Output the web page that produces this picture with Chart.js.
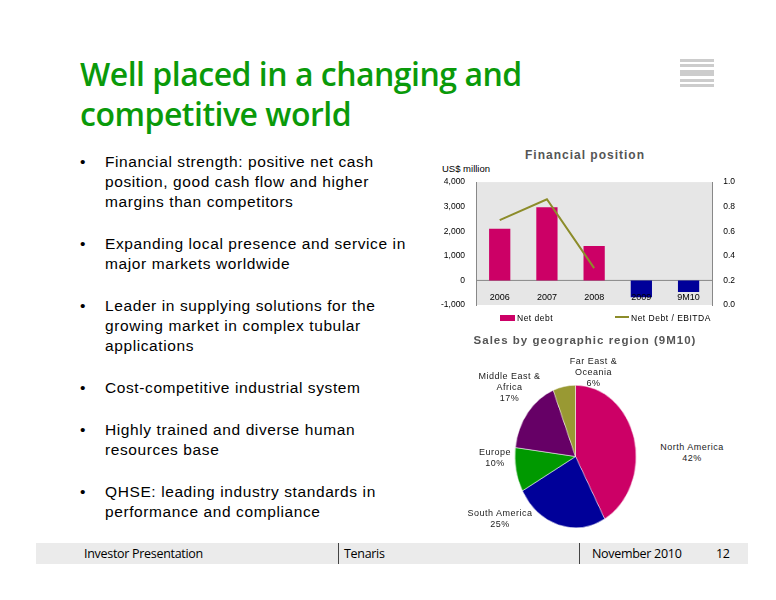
<!DOCTYPE html><html><head><meta charset="utf-8">
<script src="https://cdn.jsdelivr.net/npm/chart.js@4/dist/chart.umd.min.js"></script>
<style>
body{margin:0;width:776px;height:600px;background:#fff;font-family:"Liberation Sans",Arial,sans-serif;position:relative;overflow:hidden}
#title{position:absolute;left:80px;top:54px;font-family:"Open Sans",sans-serif;font-weight:600;font-size:32px;line-height:40px;color:#0a9a0a;letter-spacing:-0.5px}
ul{position:absolute;left:80px;top:152px;margin:0;padding:0;list-style:none;width:330px}
li{position:relative;padding-left:25px;font-size:15.5px;line-height:20px;letter-spacing:0.6px;color:#000}
li:before{content:"•";position:absolute;left:0}
.abs{position:absolute}
#foot{position:absolute;left:36px;top:543px;width:712px;height:21px;background:#ebebeb;font-family:"Open Sans",sans-serif;font-size:12.5px;line-height:21px;letter-spacing:-0.3px}
.lbl{position:absolute;font-size:9px;text-align:center;color:#222;letter-spacing:0.5px;line-height:11px}
.leg{position:absolute;font-size:8.5px;letter-spacing:0.5px}
</style></head><body>
<div id="title">Well placed in a changing and<br>competitive world</div>
<div class="abs" style="left:680px;top:59px;width:34px">
<div style="height:3px;background:#ccc;margin-bottom:2px"></div><div style="height:3px;background:#ccc;margin-bottom:3px"></div><div style="height:6px;background:#ccc;margin-bottom:3px"></div><div style="height:3px;background:#ccc;margin-bottom:2px"></div><div style="height:3px;background:#ccc"></div></div>
<ul>
<li style="margin-bottom:22px">Financial strength: positive net cash position, good cash flow and higher margins than competitors</li>
<li style="margin-bottom:22px">Expanding local presence and service in major markets worldwide</li>
<li style="margin-bottom:22px">Leader in supplying solutions for the growing market in complex tubular applications</li>
<li style="margin-bottom:22px">Cost-competitive industrial system</li>
<li style="margin-bottom:22px">Highly trained and diverse human resources base</li>
<li>QHSE: leading industry standards in performance and compliance</li>
</ul>
<div class="abs" style="left:410px;top:148px;width:350px;text-align:center;font-weight:bold;font-size:12px;letter-spacing:1px;color:#555">Financial position</div>
<div class="abs" style="left:442px;top:163px;font-size:9.5px">US$ million</div>
<div class="abs" style="left:420px;top:174px;width:330px;height:141px"><canvas id="bar"></canvas></div>
<div class="leg" style="left:500px;top:313px"><span style="display:inline-block;width:15px;height:6px;background:#cc0066;margin-right:2px"></span>Net debt</div>
<div class="leg" style="left:615px;top:313px"><span style="display:inline-block;width:14px;height:2px;background:#8c8c2a;margin-right:2px;vertical-align:3px"></span>Net Debt / EBITDA</div>
<div class="abs" style="left:410px;top:334px;width:350px;text-align:center;font-weight:bold;font-size:11.5px;letter-spacing:1px;color:#555">Sales by geographic region (9M10)</div>
<div class="abs" style="left:504px;top:385px;width:143px;height:143px;transform:scaleX(0.85)"><canvas id="pie"></canvas></div>
<div class="lbl" style="left:566px;top:356px;width:55px">Far East &amp;<br>Oceania<br>6%</div>
<div class="lbl" style="left:472px;top:371px;width:75px">Middle East &amp;<br>Africa<br>17%</div>
<div class="lbl" style="left:652px;top:442px;width:80px">North America<br>42%</div>
<div class="lbl" style="left:470px;top:447px;width:50px">Europe<br>10%</div>
<div class="lbl" style="left:455px;top:508px;width:90px">South America<br>25%</div>
<div id="foot"><span class="abs" style="left:48px">Investor Presentation</span><span class="abs" style="left:302px;top:0;height:21px;border-left:1px solid #444"></span><span class="abs" style="left:308px">Tenaris</span><span class="abs" style="left:543px;height:21px;border-left:1px solid #444"></span><span class="abs" style="left:556px">November 2010</span><span class="abs" style="left:680px">12</span></div>
<script>
const years=["2006","2007","2008","2009","9M10"];
const netDebt=[2100,2980,1400,-680,-470];
const ratio=[0.69,0.86,0.30,null,null];
const regions=["North America","South America","Europe","Middle East & Africa","Far East & Oceania"];
const shares=[42,25,10,17,6];
const bg={id:'bg',beforeDraw(c){const a=c.chartArea,x=c.ctx;x.save();x.fillStyle='#e6e6e6';x.fillRect(a.left,a.top,a.width,a.height);
const y0=c.scales.y.getPixelForValue(0);x.strokeStyle='#888';x.beginPath();x.moveTo(a.left,y0);x.lineTo(a.right,y0);x.stroke();x.restore();},
afterDraw(c){const x=c.ctx,y0=c.scales.y.getPixelForValue(0);x.save();x.font='9px "Liberation Sans"';x.fillStyle='#000';x.textAlign='center';
c.data.labels.forEach((l,i)=>x.fillText(l,c.scales.x.getPixelForValue(i),y0+20));x.restore();}};
new Chart(document.getElementById('bar'),{data:{labels:years,datasets:[
{type:'line',label:'Net Debt / EBITDA',data:ratio,yAxisID:'y2',borderColor:'#8c8c2a',borderWidth:2,pointRadius:0,order:0},
{type:'bar',label:'Net debt',data:netDebt,backgroundColor:netDebt.map(v=>v>=0?'#cc0066':'#000099'),barPercentage:0.45,categoryPercentage:1,order:1}]},
options:{responsive:true,maintainAspectRatio:false,animation:false,layout:{padding:{top:2,bottom:2,left:18,right:12}},
plugins:{legend:{display:false},tooltip:{enabled:false}},
scales:{x:{offset:true,grid:{display:false},border:{display:false},ticks:{display:false}},
y:{min:-1000,max:4000,ticks:{stepSize:1000,font:{size:8.5},color:'#000'},grid:{display:false},border:{color:'#888'}},
y2:{position:'right',min:0,max:1,ticks:{stepSize:0.2,font:{size:8.5},color:'#000',callback:v=>v.toFixed(1)},grid:{display:false},border:{color:'#888'}}}},plugins:[bg]});
new Chart(document.getElementById('pie'),{type:'pie',data:{labels:regions,datasets:[{data:shares,backgroundColor:['#cc0066','#000099','#009900','#660066','#999933'],borderColor:'#fff',borderWidth:0.5}]},
options:{responsive:true,maintainAspectRatio:false,animation:false,plugins:{legend:{display:false},tooltip:{enabled:false}}}});
</script></body></html>
